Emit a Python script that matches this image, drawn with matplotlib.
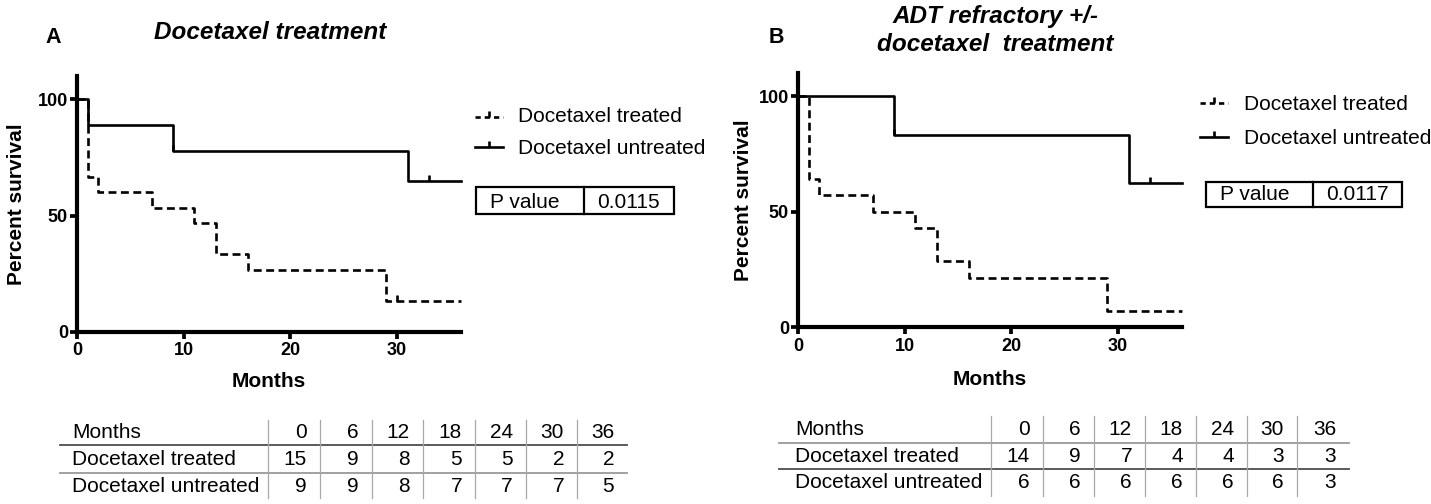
import matplotlib
matplotlib.use('Agg')
import matplotlib.pyplot as plt
from matplotlib.lines import Line2D
from matplotlib.patches import Rectangle
from matplotlib.markers import TICKUP

plt.rcParams['font.family'] = ['Liberation Sans', 'DejaVu Sans']

W, H = 1431, 504

# ---------------- data ----------------
panel_letters = ["A", "B"]
titles_a = ["Docetaxel treatment"]
titles_b = ["ADT refractory +/-", "docetaxel  treatment"]
series_names = ["Docetaxel treated", "Docetaxel untreated"]
x_label = "Months"
y_label = "Percent survival"
x_ticks = [0, 10, 20, 30]
y_ticks = [0, 50, 100]

a_treated_months = [0, 1, 2, 7, 11, 13, 16, 29, 36]
a_treated_surv = [100, 66.7, 60.0, 53.3, 46.7, 33.3, 26.7, 13.3, 13.3]
a_treated_cens_months = [30]
a_treated_cens_surv = [13.3]
a_untreated_months = [0, 1, 9, 31, 36]
a_untreated_surv = [100, 88.9, 77.8, 64.8, 64.8]
a_untreated_cens_months = [9, 33]
a_untreated_cens_surv = [77.8, 64.8]

b_treated_months = [0, 1, 2, 7, 11, 13, 16, 29, 36]
b_treated_surv = [100, 64.3, 57.1, 50.0, 42.9, 28.6, 21.4, 7.1, 7.1]
b_treated_cens_months = []
b_treated_cens_surv = []
b_untreated_months = [0, 9, 31, 36]
b_untreated_surv = [100, 83.3, 62.5, 62.5]
b_untreated_cens_months = [9, 33]
b_untreated_cens_surv = [83.3, 62.5]

p_values = ["0.0115", "0.0117"]

risk_months = [0, 6, 12, 18, 24, 30, 36]
a_risk_treated = [15, 9, 8, 5, 5, 2, 2]
a_risk_untreated = [9, 9, 8, 7, 7, 7, 5]
b_risk_treated = [14, 9, 7, 4, 4, 3, 3]
b_risk_untreated = [6, 6, 6, 6, 6, 6, 3]

# ---------------- helpers ----------------
def fx(x):
    return x / W

def fy(y):
    return 1 - y / H

fig = plt.figure(figsize=(W / 100, H / 100), dpi=100)
LW = 1.9
DASH = (0, (3.0, 1.7))


def draw_panel(ax, tr_t, tr_s, trc_t, trc_s, un_t, un_s, unc_t, unc_s,
               xlab_y, ylab_x):
    ax.step(tr_t, tr_s, where='post', color='black', lw=LW, ls=DASH,
            clip_on=False)
    ax.step(un_t, un_s, where='post', color='black', lw=LW, clip_on=False)
    if trc_t:
        ax.plot(trc_t, trc_s, ls='none', marker=TICKUP, ms=4.5, mew=1.9,
                color='black', clip_on=False)
    if unc_t:
        ax.plot(unc_t, unc_s, ls='none', marker=TICKUP, ms=4.5, mew=1.9,
                color='black', clip_on=False)
    ax.set_xlim(0, 36)
    ax.set_ylim(0, 110)
    ax.set_xticks(x_ticks)
    ax.set_yticks(y_ticks)
    for s in ['top', 'right']:
        ax.spines[s].set_visible(False)
    for s in ['left', 'bottom']:
        ax.spines[s].set_linewidth(3.0)
    ax.tick_params(axis='both', direction='out', length=5, width=2.7,
                   labelsize=13)
    ax.tick_params(axis='y', pad=1.5)
    ax.tick_params(axis='x', pad=2.5)
    for lbl in ax.get_xticklabels() + ax.get_yticklabels():
        lbl.set_fontweight('bold')
    ax.set_xlabel(x_label, fontsize=15, fontweight='bold', va='baseline')
    ax.xaxis.set_label_coords(0.5, xlab_y)
    ax.set_ylabel(y_label, fontsize=15, fontweight='bold', va='baseline')
    ax.yaxis.set_label_coords(ylab_x, 0.5)
    ax.patch.set_alpha(0)


def draw_legend(x0, x1, xt, ys, baselines):
    xm = (x0 + x1) / 2
    fig.add_artist(Line2D([fx(x0), fx(x1)], [fy(ys[0])] * 2, color='black',
                          lw=LW, ls=(0, (2.0, 1.5))))
    fig.add_artist(Line2D([fx(xm)], [fy(ys[0])], ls='none', marker=TICKUP,
                          ms=4.5, mew=1.9, color='black'))
    fig.add_artist(Line2D([fx(x0), fx(x1)], [fy(ys[1])] * 2, color='black',
                          lw=LW))
    fig.add_artist(Line2D([fx(xm)], [fy(ys[1])], ls='none', marker=TICKUP,
                          ms=4.5, mew=1.9, color='black'))
    for name, b in zip(series_names, baselines):
        fig.text(fx(xt), fy(b), name, fontsize=15, va='baseline', ha='left')


def draw_pbox(x0, x1, xdiv, y0, y1, xt1, xt2, base, pval):
    fig.add_artist(Rectangle((fx(x0), fy(y1)), fx(x1) - fx(x0),
                             (y1 - y0) / H, fill=False, lw=1.6,
                             edgecolor='black', transform=fig.transFigure))
    fig.add_artist(Line2D([fx(xdiv), fx(xdiv)], [fy(y0), fy(y1)],
                          color='black', lw=1.6))
    fig.text(fx(xt1), fy(base), "P value", fontsize=15, va='baseline')
    fig.text(fx(xt2), fy(base), pval, fontsize=15, va='baseline')


def draw_risk_table(x_left, x_right, label_x, seps, line_ys, line_colors,
                    baselines, vtop, vbot, rows):
    for y, c in zip(line_ys, line_colors):
        fig.add_artist(Line2D([fx(x_left), fx(x_right)], [fy(y), fy(y)],
                              color=c, lw=1.3))
    for s in seps:
        fig.add_artist(Line2D([fx(s), fx(s)], [fy(vtop), fy(vbot)],
                              color='#a8a8a8', lw=0.9))
    col_right = list(seps[1:]) + [x_right]
    for (label, vals), b in zip(rows, baselines):
        fig.text(fx(label_x), fy(b), label, fontsize=15, va='baseline',
                 ha='left')
        for v, r in zip(vals, col_right):
            fig.text(fx(r - 13), fy(b), str(v), fontsize=15,
                     va='baseline', ha='right')


# ---------------- panel A ----------------
axA = fig.add_axes([fx(77), fy(332), 384 / W, 256.3 / H])
draw_panel(axA, a_treated_months, a_treated_surv, a_treated_cens_months,
           a_treated_cens_surv, a_untreated_months, a_untreated_surv,
           a_untreated_cens_months, a_untreated_cens_surv,
           xlab_y=(332 - 387) / 256.3, ylab_x=(22 - 77) / 384)
fig.text(fx(45), fy(43), panel_letters[0], fontsize=15.5, fontweight='bold',
         va='baseline')
fig.text(fx(270), fy(39), titles_a[0], fontsize=17.5, fontweight='bold',
         fontstyle='italic', ha='center', va='baseline')
draw_legend(475, 503, 518, [117, 147], [122.5, 153.5])
draw_pbox(476, 674, 584, 187, 214, 490, 597, 207.5, p_values[0])
draw_risk_table(60, 627, 72, [268, 320, 372, 423, 475, 526, 577],
                [445, 472.5], ['#4d4d4d', '#9a9a9a'], [438, 465, 492],
                420, 498,
                [(x_label, risk_months), (series_names[0], a_risk_treated),
                 (series_names[1], a_risk_untreated)])

# ---------------- panel B ----------------
axB = fig.add_axes([fx(798), fy(327.3), 384 / W, 254.4 / H])
draw_panel(axB, b_treated_months, b_treated_surv, b_treated_cens_months,
           b_treated_cens_surv, b_untreated_months, b_untreated_surv,
           b_untreated_cens_months, b_untreated_cens_surv,
           xlab_y=(327.3 - 385) / 254.4, ylab_x=(749 - 798) / 384)
fig.text(fx(769), fy(43), panel_letters[1], fontsize=15.5, fontweight='bold',
         va='baseline')
fig.text(fx(995), fy(22.5), titles_b[0], fontsize=17.5, fontweight='bold',
         fontstyle='italic', ha='center', va='baseline')
fig.text(fx(995), fy(51), titles_b[1], fontsize=17.5, fontweight='bold',
         fontstyle='italic', ha='center', va='baseline')
draw_legend(1200, 1228, 1244, [103, 137], [110, 144])
draw_pbox(1206, 1402, 1313, 182, 207, 1220, 1326, 200, p_values[1])
draw_risk_table(779, 1349, 795, [991, 1043, 1094, 1145, 1196, 1247, 1297],
                [442.7, 469.3], ['#9a9a9a', '#4d4d4d'], [435, 462.5, 488],
                416, 496,
                [(x_label, risk_months), (series_names[0], b_risk_treated),
                 (series_names[1], b_risk_untreated)])

fig.savefig('out.png', dpi=100)
